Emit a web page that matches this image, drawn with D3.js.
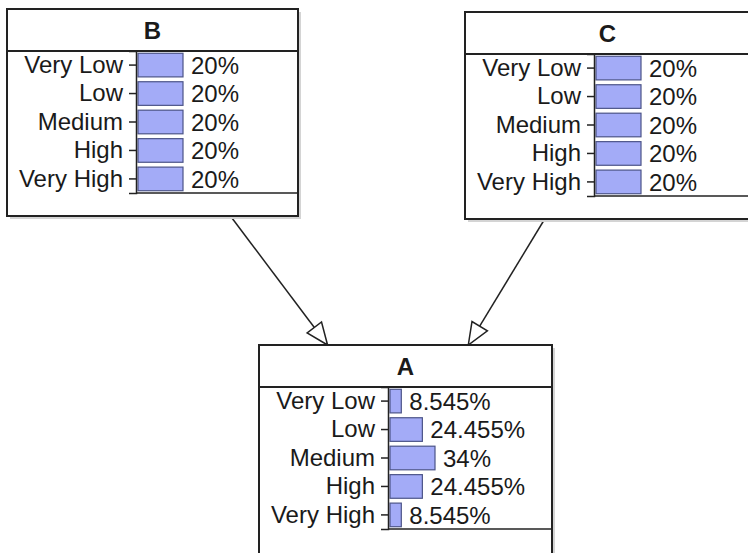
<!DOCTYPE html>
<html>
<head>
<meta charset="utf-8">
<script src="https://cdn.jsdelivr.net/npm/d3@7"></script>
<style>
  html, body { margin: 0; padding: 0; background: #fff; overflow: hidden; }
  svg { display: block; }
  text { font-family: "Liberation Sans", Arial, sans-serif; fill: #1a1a1a; }
</style>
</head>
<body>
<div id="chart"></div>
<script>
// states and node beliefs
const states = ["Very Low", "Low", "Medium", "High", "Very High"];
const probB = [20, 20, 20, 20, 20];
const probC = [20, 20, 20, 20, 20];
const probA = [8.545, 24.455, 34, 24.455, 8.545];
const nodeNames = ["B", "C", "A"];
const edges = [["B", "A"], ["C", "A"]];

// layout of the boxes (not data)
const boxes = {
  B: {x: 7, y: 9, w: 291, h: 207, probs: probB},
  C: {x: 465, y: 12, w: 285, h: 207, probs: probC},
  A: {x: 259, y: 345, w: 293, h: 212, probs: probA}
};
const titleH = 42, plotH = 142, axisOff = 129, barMax = 45;

const svg = d3.select("#chart").append("svg")
  .attr("width", 748).attr("height", 553);

const gEdges = svg.append("g");
const gNodes = svg.append("g");

const y = d3.scaleBand().domain(states).range([0, plotH])
  .paddingInner(0.17).paddingOuter(0.08);

nodeNames.forEach(function(name){
  const b = boxes[name];
  const g = gNodes.append("g").attr("transform", "translate(" + b.x + "," + b.y + ")");

  // shadow + box
  g.append("rect").attr("x", 3).attr("y", 3).attr("width", b.w).attr("height", b.h)
    .attr("fill", "#d4d4d4");
  g.append("rect").attr("width", b.w).attr("height", b.h)
    .attr("fill", "#fff").attr("stroke", "#222").attr("stroke-width", 2);
  g.append("line").attr("x1", 0).attr("x2", b.w).attr("y1", titleH).attr("y2", titleH)
    .attr("stroke", "#222").attr("stroke-width", 2);
  g.append("text").attr("x", b.w / 2).attr("y", 30)
    .attr("text-anchor", "middle").attr("font-weight", "bold").attr("font-size", 24)
    .text(name);

  const x = d3.scaleLinear().domain([0, d3.max(b.probs)]).range([0, barMax]);
  const plot = g.append("g").attr("transform", "translate(" + axisOff + "," + titleH + ")");

  // bottom line of plot area
  plot.append("line").attr("x1", 0).attr("x2", b.w - axisOff).attr("y1", plotH).attr("y2", plotH)
    .attr("stroke", "#222").attr("stroke-width", 1.5);

  const rows = states.map(function(s, i){ return {state: s, p: b.probs[i]}; });

  plot.selectAll("rect.bar").data(rows).enter().append("rect")
    .attr("class", "bar")
    .attr("x", 2)
    .attr("y", function(d){ return y(d.state); })
    .attr("width", function(d){ return x(d.p); })
    .attr("height", y.bandwidth())
    .attr("fill", "#a3abf7").attr("stroke", "#4c5488").attr("stroke-width", 1.2);

  plot.selectAll("text.pct").data(rows).enter().append("text")
    .attr("class", "pct")
    .attr("x", function(d){ return 2 + x(d.p) + 8; })
    .attr("y", function(d){ return y(d.state) + y.bandwidth() / 2; })
    .attr("dy", "0.36em").attr("font-size", 24)
    .text(function(d){ return d.p + "%"; });

  const ax = plot.append("g")
    .call(d3.axisLeft(y).tickSize(7).tickPadding(6));
  ax.select(".domain").attr("stroke", "#222").attr("stroke-width", 1.5);
  ax.selectAll(".tick line").attr("stroke", "#222").attr("stroke-width", 1.5);
  ax.selectAll(".tick text").attr("font-size", 24).attr("font-family", "Liberation Sans, Arial, sans-serif")
    .attr("fill", "#1a1a1a");
});

// edges: center-to-center (on the 207px node body), clipped to the box borders
const coreH = 207;
function clip(b, dx, dy){
  const hw = b.w / 2, hh = coreH / 2;
  const tx = dx !== 0 ? hw / Math.abs(dx) : Infinity;
  const ty = dy !== 0 ? hh / Math.abs(dy) : Infinity;
  return Math.min(tx, ty);
}
edges.forEach(function(e){
  const s = boxes[e[0]], t = boxes[e[1]];
  const sx = s.x + s.w / 2, sy = s.y + coreH / 2;
  const tx = t.x + t.w / 2, ty = t.y + coreH / 2;
  const dx = tx - sx, dy = ty - sy;
  const t0 = clip(s, dx, dy);
  const t1 = 1 - clip(t, dx, dy);
  const x0 = sx + dx * t0, y0 = sy + dy * t0;
  const x1 = sx + dx * t1, y1 = sy + dy * t1;
  const len = Math.hypot(dx, dy), ux = dx / len, uy = dy / len;
  const aL = 22, aW = 9;
  const bx = x1 - ux * aL, by = y1 - uy * aL;
  gEdges.append("line").attr("x1", x0).attr("y1", y0).attr("x2", bx).attr("y2", by)
    .attr("stroke", "#222").attr("stroke-width", 1.5);
  gEdges.append("path")
    .attr("d", d3.line()([[x1, y1], [bx - uy * aW, by + ux * aW], [bx + uy * aW, by - ux * aW]]) + "Z")
    .attr("fill", "#fff").attr("stroke", "#222").attr("stroke-width", 1.5);
});
</script>
</body>
</html>
